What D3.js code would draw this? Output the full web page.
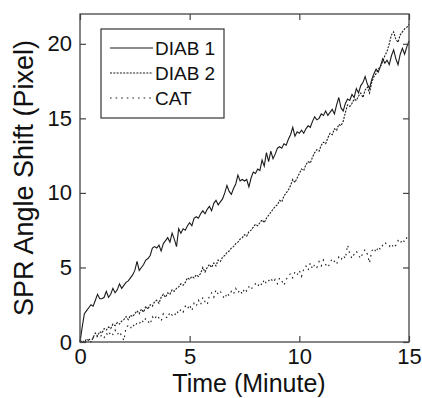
<!DOCTYPE html>
<html>
<head>
<meta charset="utf-8">
<script src="https://cdn.jsdelivr.net/npm/d3@7"></script>
<style>
  body { margin: 0; background: #fff; }
  svg text { font-family: "Liberation Sans", Arial, sans-serif; fill: #111; }
</style>
</head>
<body>
<div class="chart"></div>
<script>
// time axis: readings every 0.1 minute
var times = d3.range(0, 151).map(function(i){ return i / 10; });

var diab1 = [
  0.0, 1.0, 1.9, 2.1, 2.3, 2.5, 2.4, 2.8, 3.2, 2.9,
  2.9, 3.0, 3.4, 3.0, 3.2, 3.6, 3.3, 3.5, 3.9, 3.6,
  3.8, 4.0, 4.1, 4.3, 4.5, 4.8, 5.4, 4.8, 5.0, 5.2,
  5.5, 5.6, 5.8, 6.3, 6.4, 6.3, 6.5, 6.1, 6.6, 6.8,
  7.0, 6.7, 7.3, 6.9, 6.4, 7.6, 7.3, 7.6, 7.5, 7.8,
  8.0, 7.8, 8.3, 8.4, 8.3, 8.6, 8.8, 8.6, 8.9, 9.1,
  8.8, 9.3, 9.5, 9.2, 9.4, 9.6, 10.0, 10.5, 10.1, 9.9,
  10.3, 10.6, 11.2, 10.8, 10.9, 10.8, 10.9, 10.4, 11.0, 11.4,
  11.3, 11.6, 11.5, 12.2, 11.8, 12.7, 12.1, 12.8, 12.3, 12.6,
  13.0, 13.1, 13.0, 13.3, 13.2, 13.6, 13.9, 14.4, 13.8, 14.1,
  14.0, 14.2, 14.0, 14.3, 14.5, 14.4, 14.8, 15.1, 14.9, 15.0,
  15.3, 15.2, 15.5, 15.2, 15.4, 15.6, 15.3, 15.9, 16.4, 15.7,
  15.5, 16.0, 16.3, 16.2, 16.6, 16.4, 17.0, 16.7, 17.2, 17.4,
  17.8, 17.3, 17.0, 17.6, 18.0, 18.3, 18.1, 18.5, 19.0, 18.7,
  18.9, 18.6, 19.2, 19.6, 19.0, 18.6, 19.3, 19.7, 19.3, 19.8,
  20.2
];

var diab2 = [
  0.0, 0.1, 0.0, 0.2, 0.1, 0.0, 0.3, 0.6, 0.4, 0.7,
  0.6, 0.9, 0.8, 1.0, 0.9, 1.2, 1.1, 1.3, 1.2, 1.4,
  1.5, 1.7, 1.5, 1.8, 1.7, 1.9, 2.1, 1.9, 2.2, 2.0,
  2.4, 2.2, 2.5, 2.4, 2.7, 2.8, 2.6, 3.0, 3.2, 3.0,
  3.3, 3.2, 3.5, 3.4, 3.6, 3.7, 3.9, 3.8, 4.0, 4.3,
  4.2, 4.4, 4.3, 4.5, 4.4, 4.6, 5.0, 4.7, 5.0, 5.2,
  5.0, 5.3, 5.1, 5.5, 5.4, 5.7, 5.8, 6.0, 6.1, 6.3,
  6.4, 6.6, 6.7, 6.9, 7.0, 7.2, 7.1, 7.4, 7.5, 7.7,
  7.9, 7.8, 8.0, 8.2, 8.0, 8.3, 8.5, 8.7, 8.9, 9.1,
  9.2, 9.5, 9.4, 9.8, 10.0, 10.2, 10.5, 10.9, 10.7, 11.0,
  11.3, 11.6, 11.5, 11.9, 12.1, 12.0, 12.4, 12.7, 12.9, 12.8,
  13.2, 13.4, 13.3, 13.7, 14.0, 13.9, 14.3, 14.2, 14.6, 14.5,
  14.8, 15.4, 15.9, 15.8, 16.0, 16.3, 16.2, 16.5, 16.7, 16.4,
  16.9, 17.1, 16.7, 17.4, 17.8, 18.0, 18.3, 18.5, 18.8, 19.2,
  19.5, 20.0, 20.6, 20.8, 20.3, 20.1, 20.6, 20.8, 21.0, 21.1,
  21.3
];

var cat = [
  0.0, 0.0, 0.1, 0.0, 0.2, 0.1, 0.3, 0.2, 0.4, 0.3,
  0.5, 0.3, 0.6, 0.4, 0.7, 0.5, 0.8, 0.5, 0.7, 0.4,
  0.1, 1.0, 1.1, 0.9, 1.2, 1.0, 1.3, 1.2, 1.5, 1.3,
  1.6, 1.4, 1.2, 1.7, 1.5, 1.8, 1.6, 1.4, 1.9, 1.7,
  1.6, 2.0, 1.8, 1.7, 2.1, 1.9, 2.2, 2.0, 2.4, 2.2,
  2.5, 2.1, 2.6, 2.4, 2.8, 2.5, 3.0, 2.7, 2.5, 3.1,
  3.3, 3.0, 3.5, 3.2, 3.4, 3.1, 2.9, 3.3, 3.1, 3.4,
  3.2, 3.6, 3.3, 3.5, 3.2, 3.6, 3.4, 3.7, 3.5, 3.8,
  3.9, 3.7, 4.0, 3.8, 4.2, 3.9, 4.1, 4.3, 4.0, 4.2,
  3.9, 4.3, 4.1, 3.8, 4.2, 4.4, 4.6, 4.3, 4.7, 4.5,
  4.8, 4.4, 4.9, 5.1, 4.8, 5.3, 4.9, 5.2, 5.0, 5.4,
  5.1, 5.5, 5.2, 5.0, 5.3, 5.6, 5.4, 5.2, 5.7, 5.5,
  5.8, 5.6, 6.5, 5.9, 5.6, 5.9, 6.1, 5.8, 5.6, 6.0,
  6.2, 5.9, 5.3, 6.1, 6.3, 6.0, 6.4, 6.2, 6.5, 6.7,
  6.5, 6.4, 6.6, 6.3, 6.5, 6.8, 6.6, 6.9, 6.7, 7.0,
  7.2
];

var seriesNames = ["DIAB 1", "DIAB 2", "CAT"];
var seriesData = [diab1, diab2, cat];
var seriesDash = [null, "2,1.3", "1.6,4"];

var xTicks = [0, 5, 10, 15];
var yTicks = [0, 5, 10, 15, 20];

function draw(){

var W = 422, H = 398;
var mLeft = 80, mRight = 409, mTop = 14, mBottom = 342;

var svg = d3.select("div.chart")
            .append("svg")
            .attr("width", W)
            .attr("height", H);

var x = d3.scaleLinear().domain([0, 15]).range([mLeft, mRight]);
var y = d3.scaleLinear().domain([0, 22]).range([mBottom, mTop]);

//data lines
var line = d3.line()
             .x(function(d){ return x(d[0]); })
             .y(function(d){ return y(d[1]); });

seriesData.forEach(function(vals, i){
  svg.append("path")
     .attr("d", line(times.map(function(t, j){ return [t, vals[j]]; })))
     .attr("fill", "none")
     .attr("stroke", "#1a1a1a")
     .attr("stroke-width", 1.1)
     .attr("stroke-dasharray", seriesDash[i]);
});

//axes with inward ticks, mirrored on top and right
var tickCol = "#444";
var xb = svg.append("g").attr("transform", "translate(0," + mBottom + ")")
            .call(d3.axisBottom(x).tickValues(xTicks).tickSizeInner(-6).tickSizeOuter(0).tickPadding(8));
var xt = svg.append("g").attr("transform", "translate(0," + mTop + ")")
            .call(d3.axisTop(x).tickValues(xTicks).tickSizeInner(-6).tickSizeOuter(0).tickFormat(""));
var yl = svg.append("g").attr("transform", "translate(" + mLeft + ",0)")
            .call(d3.axisLeft(y).tickValues(yTicks).tickSizeInner(-6).tickSizeOuter(0).tickPadding(10));
var yr = svg.append("g").attr("transform", "translate(" + mRight + ",0)")
            .call(d3.axisRight(y).tickValues(yTicks).tickSizeInner(-6).tickSizeOuter(0).tickFormat(""));

[xb, xt, yl, yr].forEach(function(g){
  g.select(".domain").remove();
  g.selectAll("line").attr("stroke", tickCol).attr("stroke-width", 1.2);
  g.selectAll("text").style("font-size", "22px").attr("fill", "#111");
});
xb.selectAll("text").attr("y", 6).attr("dy", "0.72em");
yl.selectAll("text").attr("x", -8);

//frame
svg.append("rect")
   .attr("x", mLeft).attr("y", mTop)
   .attr("width", mRight - mLeft).attr("height", mBottom - mTop)
   .attr("fill", "none")
   .attr("stroke", tickCol)
   .attr("stroke-width", 1.3);

//axis titles
svg.append("text")
   .attr("x", 249).attr("y", 392)
   .attr("text-anchor", "middle")
   .style("font-size", "25px")
   .text("Time (Minute)");

svg.append("text")
   .attr("transform", "translate(33,178) rotate(-90)")
   .attr("text-anchor", "middle")
   .style("font-size", "27px")
   .text("SPR Angle Shift (Pixel)");

//legend
var lg = svg.append("g");
lg.append("rect")
  .attr("x", 101).attr("y", 29)
  .attr("width", 123).attr("height", 89)
  .attr("fill", "#fff")
  .attr("stroke", "#333")
  .attr("stroke-width", 1.2);

seriesNames.forEach(function(name, i){
  var ly = 48 + i * 25;
  lg.append("line")
    .attr("x1", 110).attr("x2", 153)
    .attr("y1", ly).attr("y2", ly)
    .attr("stroke", "#1a1a1a")
    .attr("stroke-width", 1.1)
    .attr("stroke-dasharray", seriesDash[i]);
  lg.append("text")
    .attr("x", 155).attr("y", ly + 6.5)
    .style("font-size", "19px")
    .text(name);
});

}
draw();
</script>
</body>
</html>
